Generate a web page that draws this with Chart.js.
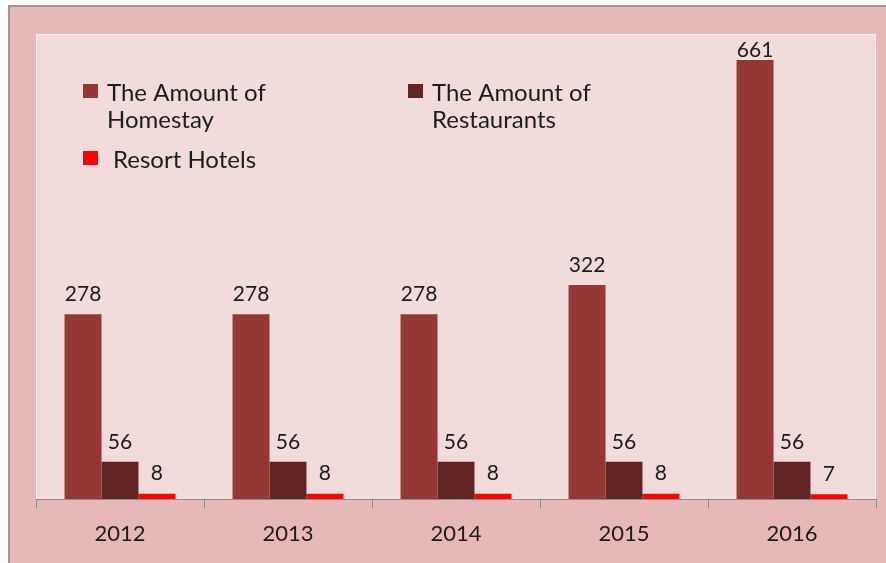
<!DOCTYPE html>
<html>
<head>
<meta charset="utf-8">
<script src="https://cdn.jsdelivr.net/npm/chart.js@4/dist/chart.umd.min.js"></script>
<style>
  html, body { margin: 0; padding: 0; background: #ffffff; }
  #c { display: block; }
</style>
</head>
<body>
<canvas id="c" width="886" height="563"></canvas>
<script>
const years = ['2012', '2013', '2014', '2015', '2016'];
const homestay = [278, 278, 278, 322, 661];
const restaurants = [56, 56, 56, 56, 56];
const resortHotels = [8, 8, 8, 8, 7];
const seriesNames = ['The Amount of Homestay', 'The Amount of Restaurants', 'Resort Hotels'];

const FONT = 'Lato, "Open Sans", sans-serif';
const TEXT = '#1c1c1c';

const backgroundPlugin = {
  id: 'bg',
  beforeDraw(chart) {
    const ctx = chart.ctx, a = chart.chartArea;
    ctx.save();
    ctx.fillStyle = '#ffffff';
    ctx.fillRect(0, 0, chart.width, chart.height);
    ctx.fillStyle = '#E6B9B8';
    ctx.fillRect(9, 6, chart.width - 9, chart.height - 6);
    ctx.fillStyle = '#A39494';
    ctx.fillRect(8, 5, chart.width - 8, 2);
    ctx.fillRect(8, 5, 2, chart.height - 5);
    ctx.fillStyle = '#F2DCDB';
    ctx.fillRect(a.left, a.top, a.right - a.left, a.bottom - a.top);
    ctx.strokeStyle = '#F8ECEC';
    ctx.lineWidth = 1;
    ctx.strokeRect(a.left + 0.5, a.top + 0.5, a.right - a.left - 1, a.bottom - a.top);
    ctx.restore();
  }
};

const labelPlugin = {
  id: 'valueLabels',
  afterDatasetsDraw(chart) {
    const ctx = chart.ctx, a = chart.chartArea;
    ctx.save();
    ctx.font = '21px ' + FONT;
    ctx.fillStyle = TEXT;
    ctx.textAlign = 'center';
    ctx.textBaseline = 'middle';
    chart.data.datasets.forEach((ds, di) => {
      const meta = chart.getDatasetMeta(di);
      meta.data.forEach((bar, i) => {
        const y = Math.max(bar.y - 20, a.top + 16);
        ctx.fillText(String(ds.data[i]), bar.x, y);
      });
    });
    ctx.restore();
  }
};

function wrapText(ctx, text, maxW) {
  const words = text.split(' ');
  const lines = [];
  let cur = '';
  words.forEach(w => {
    const t = cur ? cur + ' ' + w : w;
    if (ctx.measureText(t).width > maxW && cur) { lines.push(cur); cur = w; }
    else cur = t;
  });
  if (cur) lines.push(cur);
  return lines;
}

const legendPlugin = {
  id: 'customLegend',
  afterDraw(chart) {
    const ctx = chart.ctx;
    const spots = [
      { x: 83, y: 84, tx: 107 },
      { x: 408, y: 84, tx: 432 },
      { x: 83, y: 151, tx: 113 }
    ];
    ctx.save();
    ctx.font = '24px ' + FONT;
    ctx.textAlign = 'left';
    ctx.textBaseline = 'alphabetic';
    chart.data.datasets.forEach((ds, di) => {
      const s = spots[di];
      ctx.fillStyle = ds.backgroundColor;
      ctx.fillRect(s.x, s.y, 15, 14);
      ctx.fillStyle = TEXT;
      const lines = wrapText(ctx, ds.label, 185);
      lines.forEach((ln, li) => ctx.fillText(ln, s.tx, s.y + 17 + li * 26.5));
    });
    ctx.restore();
  }
};

new Chart(document.getElementById('c'), {
  type: 'bar',
  data: {
    labels: years,
    datasets: [
      { label: seriesNames[0], data: homestay, backgroundColor: '#953735' },
      { label: seriesNames[1], data: restaurants, backgroundColor: '#632523' },
      { label: seriesNames[2], data: resortHotels, backgroundColor: '#FF0000' }
    ]
  },
  options: {
    responsive: false,
    animation: false,
    devicePixelRatio: 1,
    datasets: { bar: { categoryPercentage: 0.66, barPercentage: 1.0 } },
    layout: { padding: { left: 36, top: 34, right: 10, bottom: 0 } },
    plugins: { legend: { display: false }, tooltip: { enabled: false } },
    scales: {
      y: { display: false, min: 0, max: 700 },
      x: {
        afterFit(scale) { scale.height = 64; },
        grid: { offset: true, drawOnChartArea: false, tickLength: 9, color: '#8C8C8C', lineWidth: 1 },
        border: { color: '#8C8C8C', width: 1 },
        ticks: { font: { family: FONT, size: 22 }, color: TEXT, padding: 13, maxRotation: 0 }
      }
    }
  },
  plugins: [backgroundPlugin, labelPlugin, legendPlugin]
});
</script>
</body>
</html>
